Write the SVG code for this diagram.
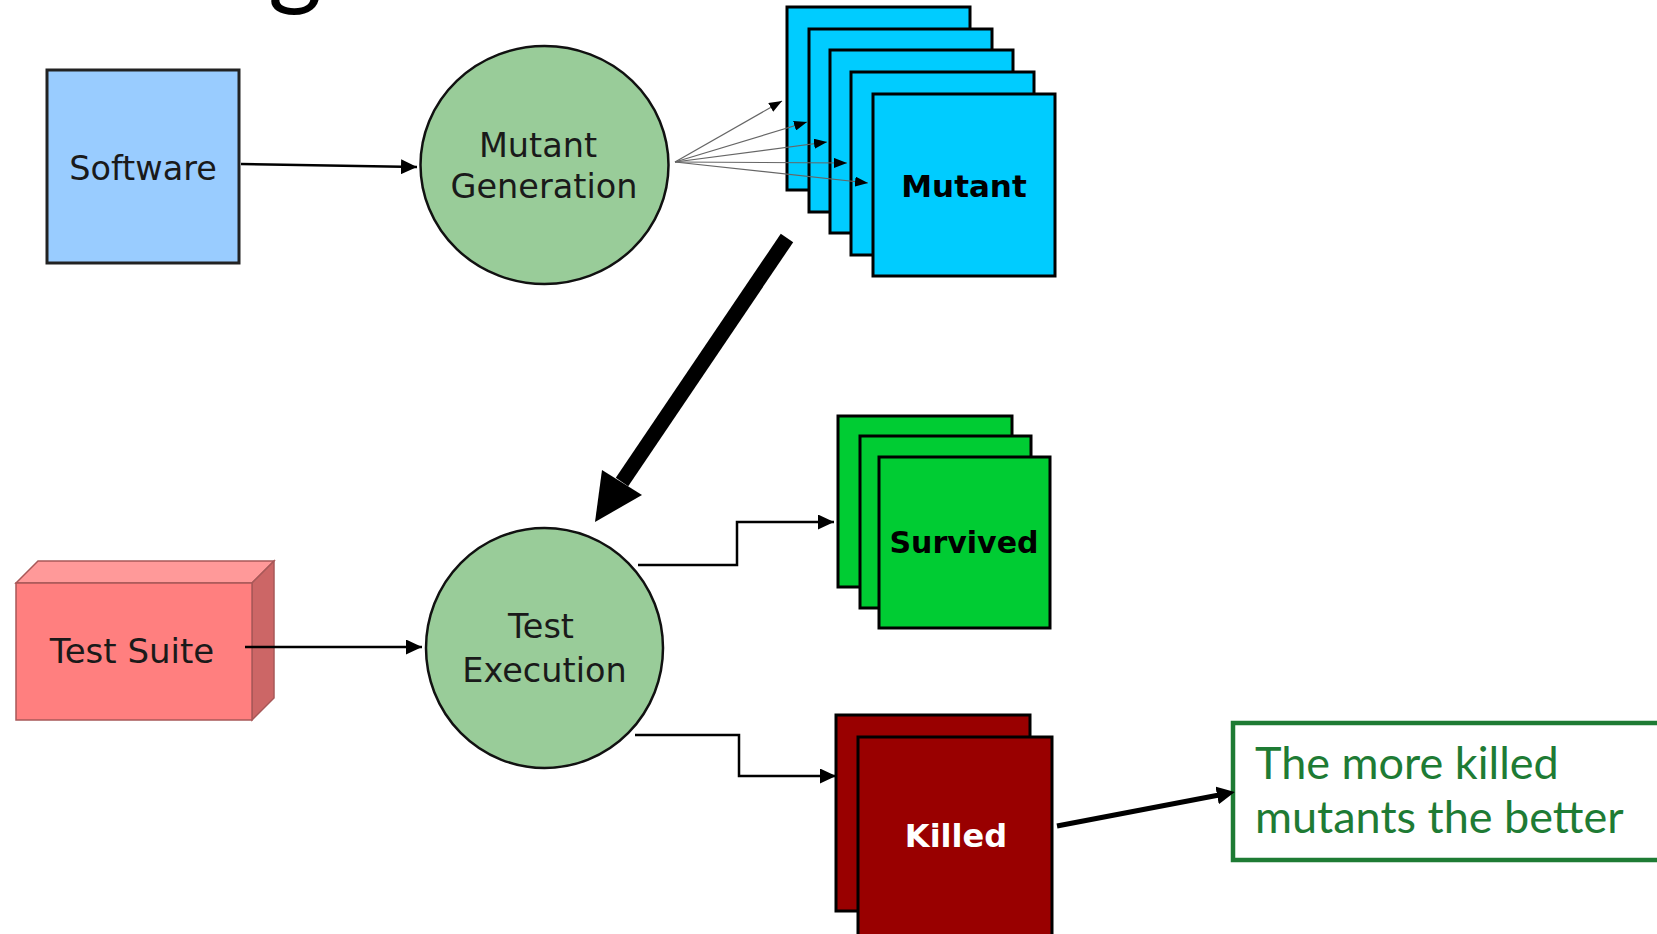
<svg xmlns="http://www.w3.org/2000/svg" width="1657" height="934" viewBox="0 0 1657 934">
<defs>
<marker id="ah" markerUnits="userSpaceOnUse" markerWidth="16" markerHeight="15" refX="16" refY="7.5" orient="auto"><path d="M0,0 L16,7.5 L0,15 z" fill="#000"/></marker>
<marker id="ahs" markerUnits="userSpaceOnUse" markerWidth="13" markerHeight="10" refX="13" refY="5" orient="auto"><path d="M0,0 L13,5 L0,10 z" fill="#000"/></marker>
<marker id="ahc" markerUnits="userSpaceOnUse" markerWidth="18" markerHeight="18" refX="6" refY="9" orient="auto"><path d="M0,0 L18,9 L0,18 z" fill="#000"/></marker>
</defs>
<style>
.lbl{font-family:"DejaVu Sans",Verdana,sans-serif;font-size:33.5px;fill:#1a1a1a;text-anchor:middle}
.bold{font-family:"DejaVu Sans",Verdana,sans-serif;font-weight:bold;text-anchor:middle}
.mut{fill:#00ccff;stroke:#000;stroke-width:3}
.sur{fill:#00cc33;stroke:#000;stroke-width:3}
.kil{fill:#990000;stroke:#000;stroke-width:3}
.proc{fill:#99cc99;stroke:#111;stroke-width:2.5}
.conn{fill:none;stroke:#000;stroke-width:2.5}
.fan{fill:none;stroke:#666;stroke-width:1.2}
.note{font-family:Lato,"Liberation Sans",sans-serif;font-size:45px;fill:#1e7b34}
</style>
<rect width="1657" height="934" fill="#fff"/>
<text x="268" y="-4" font-family="Lato,sans-serif" font-weight="400" font-size="104" fill="#000">g</text>

<g id="software">
<rect x="47" y="70" width="192" height="193" fill="#99ccff" stroke="#222" stroke-width="3"/>
<text class="lbl" x="143" y="180" font-size="34">Software</text>
</g>

<g id="mutant-generation">
<ellipse class="proc" cx="544.5" cy="165" rx="124" ry="119"/>
<text class="lbl" x="538" y="157">Mutant</text>
<text class="lbl" x="544" y="198">Generation</text>
</g>

<g id="mutants">
<rect class="mut" x="787" y="7" width="183" height="183"/>
<rect class="mut" x="809" y="29" width="183" height="183"/>
<rect class="mut" x="830" y="50" width="183" height="183"/>
<rect class="mut" x="851" y="72" width="183" height="183"/>
<rect class="mut" x="873" y="94" width="182" height="182"/>
<text class="bold" x="964" y="197" font-size="31" fill="#000">Mutant</text>
</g>

<g id="test-suite">
<polygon points="16,583 38,561 274,561 252,583" fill="#ff9999" stroke="#a85858" stroke-width="1.5"/>
<polygon points="252,583 274,561 274,698 252,720" fill="#cc6666" stroke="#a85858" stroke-width="1.5"/>
<rect x="16" y="583" width="236" height="137" fill="#ff7f7f" stroke="#a85858" stroke-width="1.5"/>
<text class="lbl" x="132" y="663" style="font-size:34px">Test Suite</text>
</g>

<g id="test-execution">
<ellipse class="proc" cx="544.5" cy="648" rx="118.5" ry="120"/>
<text class="lbl" x="541" y="638">Test</text>
<text class="lbl" x="544.5" y="682">Execution</text>
</g>

<g id="survived">
<rect class="sur" x="838" y="416" width="174" height="171"/>
<rect class="sur" x="860" y="436" width="171" height="172"/>
<rect class="sur" x="879" y="457" width="171" height="171"/>
<text class="bold" x="964" y="553" font-size="30" fill="#000">Survived</text>
</g>

<g id="killed">
<rect class="kil" x="836" y="715" width="194" height="196"/>
<rect class="kil" x="858" y="737" width="194" height="200"/>
<text class="bold" x="956" y="847" font-size="32" fill="#fff">Killed</text>
</g>

<g id="note">
<rect x="1233" y="723" width="460" height="137" fill="#fff" stroke="#1e7b34" stroke-width="4.5"/>
<text class="note" x="1255" y="779">The more killed</text>
<text class="note" x="1255" y="833">mutants the better</text>
</g>

<g id="connectors">
<line class="conn" x1="241" y1="164" x2="417" y2="167" stroke-width="3" marker-end="url(#ah)"/>
<line class="fan" x1="675" y1="162" x2="782" y2="101" marker-end="url(#ahs)"/>
<line class="fan" x1="675" y1="162" x2="807" y2="122" marker-end="url(#ahs)"/>
<line class="fan" x1="675" y1="162" x2="827" y2="142" marker-end="url(#ahs)"/>
<line class="fan" x1="675" y1="162" x2="847" y2="163" marker-end="url(#ahs)"/>
<line class="fan" x1="675" y1="162" x2="868" y2="183" marker-end="url(#ahs)"/>
<line x1="787" y1="238" x2="622" y2="482" stroke="#000" stroke-width="15"/>
<polygon points="595,522 602,470 642,495" fill="#000"/>
<line class="conn" x1="245" y1="647" x2="422" y2="647" marker-end="url(#ah)"/>
<polyline class="conn" points="638,565 737,565 737,522 834,522" marker-end="url(#ah)"/>
<polyline class="conn" points="635,735 739,735 739,776 836,776" marker-end="url(#ah)"/>
<line x1="1057" y1="826" x2="1223" y2="794.3" stroke="#000" stroke-width="5" marker-end="url(#ahc)"/>
</g>
</svg>
